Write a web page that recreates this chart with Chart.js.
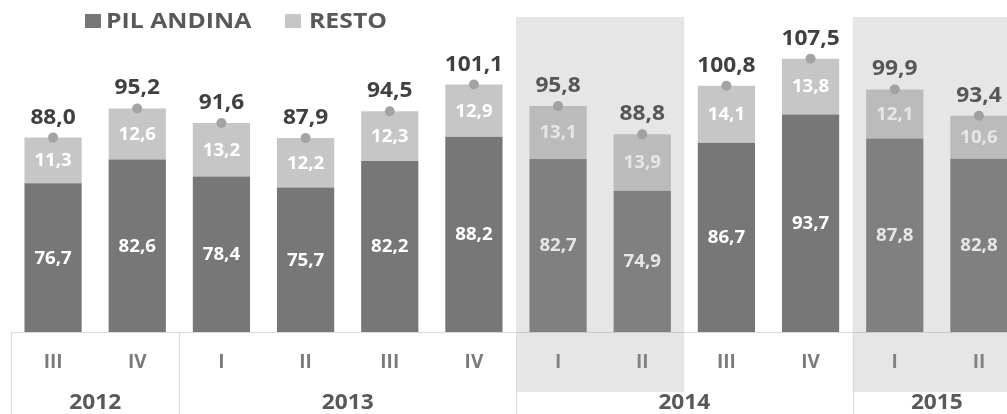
<!DOCTYPE html>
<html>
<head>
<meta charset="utf-8">
<script src="https://cdn.jsdelivr.net/npm/chart.js@4.4.1/dist/chart.umd.min.js"></script>
<style>
  html, body { margin: 0; padding: 0; background: #fff; overflow: hidden; }
  #wrap { width: 1032px; height: 414px; }
</style>
</head>
<body>
<div id="wrap"><canvas id="chart" width="1032" height="414"></canvas></div>
<script>
// datos
const quarters = ['III', 'IV', 'I', 'II', 'III', 'IV', 'I', 'II', 'III', 'IV', 'I', 'II'];
const years = ['2012', '2013', '2014', '2015'];
const yearSpans = [2, 4, 4, 2];
const pilAndina = [76.7, 82.6, 78.4, 75.7, 82.2, 88.2, 82.7, 74.9, 86.7, 93.7, 87.8, 82.8];
const resto = [11.3, 12.6, 13.2, 12.2, 12.3, 12.9, 13.1, 13.9, 14.1, 13.8, 12.1, 10.6];
const totals = [88.0, 95.2, 91.6, 87.9, 94.5, 101.1, 95.8, 88.8, 100.8, 107.5, 99.9, 93.4];
const shadedRanges = [[6, 7], [10, 11]];

const FONT = '"Open Sans", "DejaVu Sans", sans-serif';
const fmt = v => v.toFixed(1).replace('.', ',');

// texto estirado en horizontal (el original es mas ancho)
function wideText(ctx, txt, x, y, sx) {
  ctx.save();
  ctx.translate(x, y);
  ctx.scale(sx, 1);
  ctx.fillText(txt, 0, 0);
  ctx.restore();
}

// etiquetas, sombreado, años y leyenda
const decor = {
  id: 'decor',
  afterDatasetsDraw(chart) {
    const ctx = chart.ctx;
    const area = chart.chartArea;
    ctx.save();
    ctx.textAlign = 'center';
    ctx.textBaseline = 'middle';
    // valores dentro de las barras
    ctx.font = 'bold 17px ' + FONT;
    ctx.fillStyle = '#ffffff';
    [0, 1].forEach(di => {
      const meta = chart.getDatasetMeta(di);
      meta.data.forEach((bar, i) => {
        const base = Math.min(bar.base, area.bottom);
        const v = chart.data.datasets[di].data[i];
        wideText(ctx, fmt(v), bar.x, (bar.y + base) / 2 + 1, 1.1);
      });
    });
    // totales
    ctx.font = 'bold 21px ' + FONT;
    ctx.fillStyle = '#404040';
    chart.getDatasetMeta(2).data.forEach((pt, i) => {
      wideText(ctx, fmt(totals[i]), pt.x, pt.y - 20, 1.08);
    });
    ctx.restore();
  },
  afterDraw(chart) {
    const ctx = chart.ctx;
    const x = chart.scales.x;
    const area = chart.chartArea;
    const cw = (area.right - area.left) / quarters.length;
    ctx.save();

    // bloques grises (2014 I-II, 2015 I-II)
    ctx.fillStyle = 'rgba(155,155,155,0.25)';
    shadedRanges.forEach(([a, b]) => {
      const x0 = x.getPixelForValue(a) - cw / 2;
      const x1 = x.getPixelForValue(b) + cw / 2;
      ctx.fillRect(x0, 17, x1 - x0, 375);
    });

    // separadores de años y etiquetas de año
    ctx.strokeStyle = '#d9d9d9';
    ctx.lineWidth = 1;
    ctx.font = 'bold 21px ' + FONT;
    ctx.fillStyle = '#595959';
    ctx.textAlign = 'center';
    ctx.textBaseline = 'middle';
    let start = 0;
    years.forEach((yr, k) => {
      const x0 = area.left + start * cw;
      const x1 = x0 + yearSpans[k] * cw;
      const px = Math.round(x0) + 0.5;
      ctx.beginPath();
      ctx.moveTo(px, area.bottom);
      ctx.lineTo(px, 414);
      ctx.stroke();
      wideText(ctx, yr, (x0 + x1) / 2, 403, 1.08);
      start += yearSpans[k];
    });

    // leyenda
    ctx.textAlign = 'left';
    ctx.font = 'bold 21px ' + FONT;
    const items = [{ sx: 85, tx: 106 }, { sx: 285, tx: 309 }];
    items.forEach((it, i) => {
      const ds = chart.data.datasets[i];
      ctx.fillStyle = ds.backgroundColor;
      ctx.fillRect(it.sx, 14, 16, 14);
      ctx.fillStyle = '#595959';
      wideText(ctx, ds.label, it.tx, 22, 1.18);
    });
    ctx.restore();
  }
};

new Chart(document.getElementById('chart'), {
  type: 'bar',
  data: {
    labels: quarters,
    datasets: [
      {
        label: 'PIL ANDINA',
        data: pilAndina,
        backgroundColor: '#777777',
        stack: 'a',
        order: 2,
        barPercentage: 0.68,
        categoryPercentage: 1
      },
      {
        label: 'RESTO',
        data: resto,
        backgroundColor: '#c6c6c6',
        stack: 'a',
        order: 2,
        barPercentage: 0.68,
        categoryPercentage: 1
      },
      {
        type: 'line',
        label: 'TOTAL',
        data: totals,
        stack: 'tot',
        order: 0,
        showLine: false,
        pointRadius: 5,
        pointBackgroundColor: '#a3a3a3',
        pointBorderWidth: 0
      }
    ]
  },
  options: {
    responsive: false,
    animation: false,
    layout: { padding: { left: 11, right: 11, top: 8, bottom: 0 } },
    plugins: {
      legend: { display: false },
      tooltip: { enabled: false }
    },
    scales: {
      x: {
        stacked: true,
        offset: true,
        grid: { display: false, drawTicks: false },
        border: { display: true, color: '#d9d9d9' },
        ticks: {
          color: '#7a7a7a',
          padding: 19,
          font: { family: FONT, size: 19, weight: 'bold' }
        },
        afterFit(scale) { scale.height = 82; }
      },
      y: {
        stacked: true,
        display: false,
        min: 40,
        max: 120
      }
    }
  },
  plugins: [decor]
});
</script>
</body>
</html>
